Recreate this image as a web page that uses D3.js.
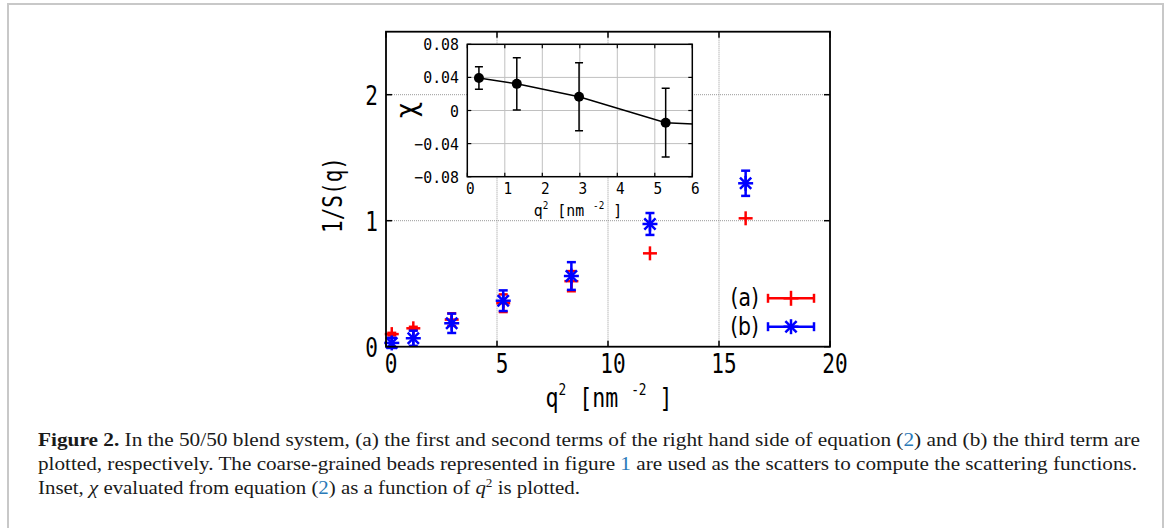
<!DOCTYPE html>
<html><head><meta charset="utf-8">
<script src="https://cdn.jsdelivr.net/npm/d3@7"></script>
<style>body{margin:0;background:#fff}svg{display:block}</style>
</head><body>
<svg id="c" width="1170" height="528"></svg>
<script>
// ---- data ----
const q2 = [0.26, 1.23, 2.96, 5.28, 8.35, 11.89, 16.2];
const seriesA = [0.10, 0.146, 0.215, 0.345, 0.52, 0.741, 1.019];
const errA = [0.01, 0.012, 0.05, 0.07, 0.08, 0, 0];
const seriesB = [0.03, 0.067, 0.186, 0.365, 0.561, 0.974, 1.297];
const errB = [0.04, 0.06, 0.077, 0.082, 0.11, 0.087, 0.10];
const xTicks = [0, 5, 10, 15, 20];
const yTicks = [0, 1, 2];
const legendLabels = ["(a)", "(b)"];

const insetQ2 = [0.31, 1.32, 2.98, 5.29, 8.35];
const chi = [0.0393, 0.0322, 0.0167, -0.0147, -0.0221];
const chiErr = [0.0137, 0.0316, 0.0411, 0.0415, 0.04];
const insetXTicks = [0, 1, 2, 3, 4, 5, 6];
const insetYTicks = [-0.08, -0.04, 0, 0.04, 0.08];

const svg = d3.select("#c");
const MONO = "'DejaVu Sans Mono', monospace";
const SANS = "'DejaVu Sans', sans-serif";

// frame around figure
svg.append("rect").attr("x", 8).attr("y", 4).attr("width", 1155).attr("height", 560)
  .attr("fill", "none").attr("stroke", "#c8c8c8").attr("stroke-width", 2);

function ctext(parent, x, y, str, size, anchor, sx, rot, fam) {
  const g = parent.append("g").attr("transform", `translate(${x},${y})` + (rot ? ` rotate(${rot})` : "") + ` scale(${sx},1)`);
  return g.append("text").attr("x", 0).attr("y", 0).attr("text-anchor", anchor)
    .attr("font-family", fam || MONO).attr("font-size", size).attr("fill", "#000").text(str);
}

// ---- main plot ----
const x = d3.scaleLinear().domain([0, 20]).range([386, 830]);
const y = d3.scaleLinear().domain([0, 2.5]).range([346.7, 31.7]);

const grid = svg.append("g");
xTicks.filter(v => v > 0 && v < 20).forEach(v => grid.append("line")
  .attr("x1", x(v)).attr("x2", x(v)).attr("y1", y(0)).attr("y2", y(2.5))
  .attr("stroke", "#999").attr("stroke-width", 1).attr("stroke-dasharray", "1,1"));
yTicks.filter(v => v > 0).forEach(v => grid.append("line")
  .attr("x1", x(0)).attr("x2", x(20)).attr("y1", y(v)).attr("y2", y(v))
  .attr("stroke", "#999").attr("stroke-width", 1).attr("stroke-dasharray", "1,1"));

// ticks (inward, mirrored)
const tk = svg.append("g").attr("stroke", "#000").attr("stroke-width", 1.5);
xTicks.forEach(v => {
  tk.append("line").attr("x1", x(v)).attr("x2", x(v)).attr("y1", y(0)).attr("y2", y(0) - 6);
  tk.append("line").attr("x1", x(v)).attr("x2", x(v)).attr("y1", y(2.5)).attr("y2", y(2.5) + 6);
  ctext(svg, x(v) + 5, 373, String(v), 27, "middle", 0.78);
});
yTicks.forEach(v => {
  tk.append("line").attr("x1", x(0)).attr("x2", x(0) + 6).attr("y1", y(v)).attr("y2", y(v));
  tk.append("line").attr("x1", x(20)).attr("x2", x(20) - 6).attr("y1", y(v)).attr("y2", y(v));
  ctext(svg, 378, y(v) + 10, String(v), 27, "end", 0.78);
});

// axis labels
ctext(svg, 342, 195, "1/S(q)", 27, "middle", 0.78, -90);
{
  const g = svg.append("g").attr("transform", "translate(609,407) scale(0.8,1)");
  const t = g.append("text").attr("text-anchor", "middle").attr("font-family", MONO).attr("font-size", 27);
  t.append("tspan").text("q");
  t.append("tspan").attr("font-size", 16).attr("dy", -12).text("2");
  t.append("tspan").attr("dy", 12).text(" [nm ");
  t.append("tspan").attr("font-size", 16).attr("dy", -12).text("-2");
  t.append("tspan").attr("dy", 12).text(" ]");
}

// ---- inset ----
const xi = d3.scaleLinear().domain([0, 6]).range([467.3, 692.3]);
const yi = d3.scaleLinear().domain([-0.08, 0.08]).range([176.7, 44.3]);

svg.append("rect").attr("x", xi(0)).attr("y", yi(0.08)).attr("width", xi(6) - xi(0)).attr("height", yi(-0.08) - yi(0.08)).attr("fill", "#fff");

const ig = svg.append("g");
insetXTicks.filter(v => v > 0 && v < 6).forEach(v => ig.append("line")
  .attr("x1", xi(v)).attr("x2", xi(v)).attr("y1", yi(-0.08)).attr("y2", yi(0.08))
  .attr("stroke", "#c0c0c0").attr("stroke-width", 1));
insetYTicks.filter(v => v > -0.08 && v < 0.08).forEach(v => ig.append("line")
  .attr("x1", xi(0)).attr("x2", xi(6)).attr("y1", yi(v)).attr("y2", yi(v))
  .attr("stroke", "#c0c0c0").attr("stroke-width", 1));

svg.append("defs").append("clipPath").attr("id", "ic").append("rect")
  .attr("x", xi(0)).attr("y", yi(0.08)).attr("width", xi(6) - xi(0)).attr("height", yi(-0.08) - yi(0.08));
const idata = insetQ2.map((v, i) => ({ x: v, y: chi[i], e: chiErr[i] }));
const ip = svg.append("g").attr("clip-path", "url(#ic)");
ip.append("path").datum(idata).attr("fill", "none").attr("stroke", "#000").attr("stroke-width", 1.5)
  .attr("d", d3.line().x(d => xi(d.x)).y(d => yi(d.y)));
idata.forEach(d => {
  const cx = xi(d.x);
  ip.append("line").attr("x1", cx).attr("x2", cx).attr("y1", yi(d.y - d.e)).attr("y2", yi(d.y + d.e)).attr("stroke", "#000").attr("stroke-width", 1.5);
  [d.y - d.e, d.y + d.e].forEach(v => ip.append("line").attr("x1", cx - 4).attr("x2", cx + 4).attr("y1", yi(v)).attr("y2", yi(v)).attr("stroke", "#000").attr("stroke-width", 1.5));
  ip.append("circle").attr("cx", cx).attr("cy", yi(d.y)).attr("r", 5).attr("fill", "#000");
});

svg.append("rect").attr("x", xi(0)).attr("y", yi(0.08)).attr("width", xi(6) - xi(0)).attr("height", yi(-0.08) - yi(0.08))
  .attr("fill", "none").attr("stroke", "#000").attr("stroke-width", 1.5);
const itk = svg.append("g").attr("stroke", "#000").attr("stroke-width", 1.2);
insetXTicks.forEach(v => {
  itk.append("line").attr("x1", xi(v)).attr("x2", xi(v)).attr("y1", yi(-0.08)).attr("y2", yi(-0.08) - 4);
  itk.append("line").attr("x1", xi(v)).attr("x2", xi(v)).attr("y1", yi(0.08)).attr("y2", yi(0.08) + 4);
  ctext(svg, xi(v) + 3, 194, String(v), 16, "middle", 0.9);
});
insetYTicks.forEach(v => {
  itk.append("line").attr("x1", xi(0)).attr("x2", xi(0) + 4).attr("y1", yi(v)).attr("y2", yi(v));
  itk.append("line").attr("x1", xi(6)).attr("x2", xi(6) - 4).attr("y1", yi(v)).attr("y2", yi(v));
  ctext(svg, 459, yi(v) + 6, v === 0 ? "0" : d3.format(".2f")(v), 16, "end", 0.93);
});
ctext(svg, 416, 110, "χ", 28, "middle", 1, -90);
{
  const g = svg.append("g").attr("transform", "translate(578,216) scale(0.93,1)");
  const t = g.append("text").attr("text-anchor", "middle").attr("font-family", MONO).attr("font-size", 16);
  t.append("tspan").text("q");
  t.append("tspan").attr("font-size", 10).attr("dy", -7).text("2");
  t.append("tspan").attr("dy", 7).text(" [nm ");
  t.append("tspan").attr("font-size", 10).attr("dy", -7).text("-2");
  t.append("tspan").attr("dy", 7).text(" ]");
}

// ---- main data ----
function plus(g, cx, cy, s, col) {
  g.append("line").attr("x1", cx - s).attr("x2", cx + s).attr("y1", cy).attr("y2", cy).attr("stroke", col).attr("stroke-width", 2.5);
  g.append("line").attr("x1", cx).attr("x2", cx).attr("y1", cy - s).attr("y2", cy + s).attr("stroke", col).attr("stroke-width", 2.5);
}
function star(g, cx, cy, s, col) {
  plus(g, cx, cy, s, col);
  const d = s * 0.75;
  g.append("line").attr("x1", cx - d).attr("x2", cx + d).attr("y1", cy - d).attr("y2", cy + d).attr("stroke", col).attr("stroke-width", 2.5);
  g.append("line").attr("x1", cx - d).attr("x2", cx + d).attr("y1", cy + d).attr("y2", cy - d).attr("stroke", col).attr("stroke-width", 2.5);
}
function errbar(g, cx, lo, hi, col) {
  if (Math.abs(hi - lo) < 0.5) return;
  g.append("line").attr("x1", cx).attr("x2", cx).attr("y1", lo).attr("y2", hi).attr("stroke", col).attr("stroke-width", 2.5);
  [lo, hi].forEach(v => g.append("line").attr("x1", cx - 4.5).attr("x2", cx + 4.5).attr("y1", v).attr("y2", v).attr("stroke", col).attr("stroke-width", 2.5));
}
const dg = svg.append("g");
q2.forEach((v, i) => {
  errbar(dg, x(v), y(seriesA[i] - errA[i]), y(seriesA[i] + errA[i]), "#ff0000");
  plus(dg, x(v), y(seriesA[i]), 7, "#ff0000");
});
q2.forEach((v, i) => {
  errbar(dg, x(v), y(seriesB[i] - errB[i]), y(seriesB[i] + errB[i]), "#0000ff");
  star(dg, x(v), y(seriesB[i]), 7.5, "#0000ff");
});

// main frame
svg.append("rect").attr("x", x(0)).attr("y", y(2.5)).attr("width", x(20) - x(0)).attr("height", y(0) - y(2.5))
  .attr("fill", "none").attr("stroke", "#000").attr("stroke-width", 1.8);

// legend
const lg = svg.append("g");
[["#ff0000", plus], ["#0000ff", star]].forEach(([col, fn], i) => {
  const ly = 298.3 + i * 28.4;
  ctext(lg, 759, ly + 8, legendLabels[i], 24, "end", 0.85, 0, SANS);
  lg.append("line").attr("x1", 768).attr("x2", 814).attr("y1", ly).attr("y2", ly).attr("stroke", col).attr("stroke-width", 2.5);
  [768, 814].forEach(xx => lg.append("line").attr("x1", xx).attr("x2", xx).attr("y1", ly - 4.5).attr("y2", ly + 4.5).attr("stroke", col).attr("stroke-width", 2.5));
  fn(lg, 791, ly, 7.5, col);
});

// ---- caption ----
const SERIF = "'Liberation Serif', 'Times New Roman', serif";
const LINK = "#2a7ab8";
const cap = svg.append("g").attr("font-family", SERIF).attr("font-size", 19).attr("fill", "#1a1a1a");
{
  const t = cap.append("text").attr("x", 38).attr("y", 446).attr("textLength", 1102).attr("lengthAdjust", "spacingAndGlyphs");
  t.append("tspan").attr("font-weight", "bold").text("Figure 2.");
  t.append("tspan").text(" In the 50/50 blend system, (a) the first and second terms of the right hand side of equation (");
  t.append("tspan").attr("fill", LINK).text("2");
  t.append("tspan").text(") and (b) the third term are");
}
{
  const t = cap.append("text").attr("x", 38).attr("y", 470).attr("textLength", 1099).attr("lengthAdjust", "spacingAndGlyphs");
  t.append("tspan").text("plotted, respectively. The coarse-grained beads represented in figure ");
  t.append("tspan").attr("fill", LINK).text("1");
  t.append("tspan").text(" are used as the scatters to compute the scattering functions.");
}
{
  const t = cap.append("text").attr("x", 38).attr("y", 494).attr("textLength", 542).attr("lengthAdjust", "spacingAndGlyphs");
  t.append("tspan").text("Inset, ");
  t.append("tspan").attr("font-style", "italic").text("χ");
  t.append("tspan").text(" evaluated from equation (");
  t.append("tspan").attr("fill", LINK).text("2");
  t.append("tspan").text(") as a function of ");
  t.append("tspan").attr("font-style", "italic").text("q");
  t.append("tspan").attr("font-size", 12).attr("dy", -7).text("2");
  t.append("tspan").attr("dy", 7).text(" is plotted.");
}
</script>
</body></html>
